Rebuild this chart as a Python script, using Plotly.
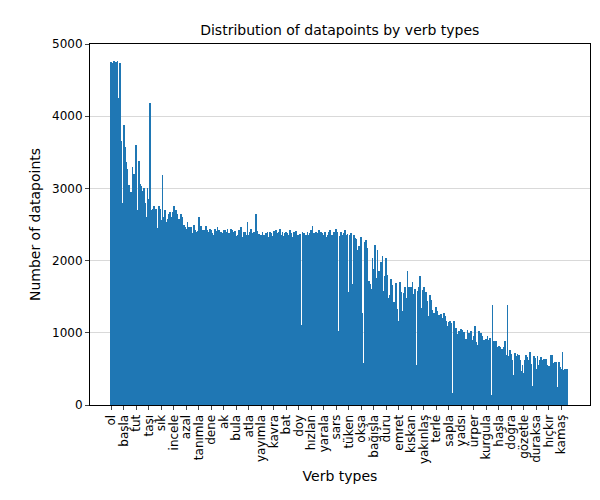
import plotly.graph_objects as go

tick_labels = ['ol', 'başla', 'tut', 'taşı', 'sık', 'incele', 'azal', 'tanımla', 'dene', 'ak',
               'bula', 'atla', 'yayımla', 'kavra', 'bat', 'doy', 'hızlan', 'yarala', 'sars',
               'tüken', 'okşa', 'bağışla', 'duru', 'emret', 'kıskan', 'yakınlaş', 'terle',
               'sapla', 'yadsı', 'ürper', 'kurgula', 'haşla', 'doğra', 'gözetle', 'duraksa',
               'hıçkır', 'kamaş']

counts = [
    4750, 4730, 4760, 4740, 4750, 4760, 4250, 4730, 3650, 2800,
    3880, 3580, 3360, 3270, 3050, 2860, 2950, 3300, 3200, 2800,
    3600, 2700, 3380, 3060, 3030, 2960, 3010, 2800, 2600, 3000,
    2850, 4180, 2700, 2720, 2750, 2600, 2720, 2450, 2750, 2720,
    2560, 3180, 2600, 2700, 2540, 2580, 2640, 2680, 2600, 2680,
    2760, 2620, 2700, 2650, 2580, 2560, 2650, 2600, 2500, 2470,
    2440, 2530, 2460, 2470, 2470, 2380, 2500, 2420, 2400, 2410,
    2610, 2450, 2480, 2430, 2430, 2350, 2480, 2420, 2400, 2440,
    2420, 2380, 2360, 2440, 2410, 2470, 2420, 1380, 2400, 2380,
    2430, 2420, 2400, 2440, 2380, 2370, 2440, 2420, 2390, 2410,
    2340, 2360, 2420, 2380, 2460, 2330, 2400, 2390, 2350, 2530,
    2360, 2400, 2440, 2380, 2390, 2400, 2640, 2410, 2370, 2350,
    2360, 2400, 2350, 2330, 2380, 2390, 2330, 2400, 2380, 2340,
    2410, 2370, 2420, 2380, 2400, 2440, 2360, 2400, 2340, 2380,
    2400, 2380, 2360, 2420, 2380, 2330, 2400, 2370, 2410, 2360,
    2350, 2370, 1110, 2400, 2380, 2340, 2360, 2400, 2350, 2380,
    2420, 2480, 2380, 1650, 2400, 2380, 2420, 2360, 2390, 2380,
    2350, 2400, 2330, 2350, 2390, 2420, 2360, 2350, 2390, 2350,
    2440, 2390, 1020, 2340, 2390, 2360, 2380, 2420, 2350, 2370,
    1570, 2360, 2380, 1680, 2350, 2320, 2300, 2150, 2200, 2080,
    2330, 1270, 580, 2260, 2290, 2180, 1720, 1680, 1600, 2030,
    1880, 2210, 1760, 2150, 1860, 1640, 1980, 2060, 1580, 1790,
    2040, 1800, 1480, 1530, 1750, 1660, 1420, 1270, 1690, 1330,
    1160, 1710, 1570, 1300, 1550, 1640, 1480, 1850, 1630, 1200,
    1640, 1700, 1540, 1600, 550, 1580, 1630, 1790, 1350, 1590,
    1640, 1500, 1560, 1440, 1230, 1530, 1460, 1310, 1270, 1180,
    1360, 1300, 1240, 1110, 1260, 1200, 1270, 1230, 1170, 1100,
    1150, 1160, 1130, 170, 1160, 1000, 1060, 990, 1020, 130,
    1050, 1040, 1010, 850, 920, 1040, 1000, 950, 1020, 900,
    960, 1100, 870, 830, 1020, 990, 1000, 960, 900, 830,
    920, 950, 900, 930, 140, 1380, 880, 580, 880, 800,
    820, 800, 780, 780, 800, 880, 690, 1380, 680, 760,
    710, 630, 420, 720, 680, 700, 690, 620, 470, 560,
    440, 620, 690, 670, 620, 740, 570, 270, 680, 650,
    500, 680, 560, 620, 660, 620, 640, 600, 640, 560,
    540, 480, 690, 690, 580, 590, 600, 250, 590, 530,
    500, 740, 490, 500, 500, 500,
]

idx = list(range(len(counts)))
tick_pos = [i * 10 for i in range(len(tick_labels))]

fig = go.Figure(go.Bar(x=idx, y=counts, width=0.75, marker_color='#1f77b4',
                       marker_line_width=0))

fig.update_layout(
    width=600, height=500,
    margin=dict(l=82, r=18, t=36, b=103, autoexpand=False),
    paper_bgcolor='white', plot_bgcolor='white',
    font=dict(family='DejaVu Sans', size=12, color='black'),
    title=dict(text='Distribution of datapoints by verb types', x=0.553, xanchor='center',
               yref='container', y=0.956, yanchor='middle', font=dict(size=14)),
    showlegend=False, bargap=0,
)
fig.update_xaxes(range=[-17, 383], tickvals=tick_pos, ticktext=tick_labels, tickangle=-90,
                 ticks='outside', ticklen=4, showgrid=False, showline=True, linecolor='black',
                 mirror=True, zeroline=False, automargin=False,
                 title=dict(text='Verb types', font=dict(size=14), standoff=8))
fig.update_yaxes(range=[0, 5000], dtick=1000, ticks='outside', ticklen=4,
                 showgrid=True, gridcolor='#d9d9d9', showline=True, linecolor='black',
                 mirror=True, zeroline=False, automargin=False,
                 title=dict(text='Number of datapoints', font=dict(size=14), standoff=8))

fig.write_html('out.html')
